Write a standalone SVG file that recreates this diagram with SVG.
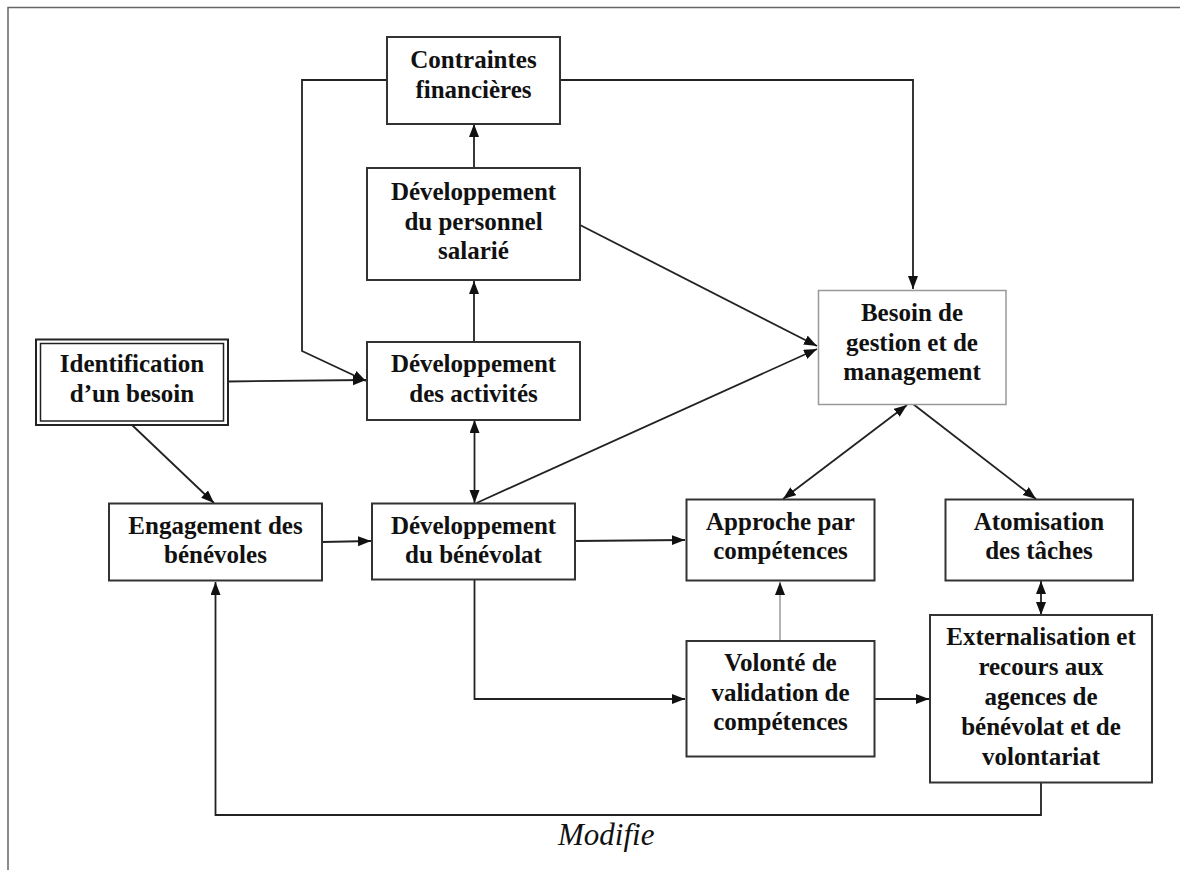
<svg xmlns="http://www.w3.org/2000/svg" width="1180" height="870" viewBox="0 0 1180 870">
<style>
.box{fill:#fff;stroke:#333;stroke-width:2}
.box2{fill:#fff;stroke:#999;stroke-width:1.5}
.t{font-family:"Liberation Serif","Times New Roman",serif;font-weight:bold;font-size:25px;fill:#111;text-anchor:middle}
.c{fill:none;stroke:#222;stroke-width:1.8}
.thin{fill:none;stroke:#666;stroke-width:1}
.lbl{font-family:"Liberation Serif","Times New Roman",serif;font-style:italic;font-size:31px;fill:#111}
</style>
<defs>
<marker id="ah" markerUnits="userSpaceOnUse" markerWidth="14" markerHeight="11" refX="13" refY="5" orient="auto-start-reverse">
<path d="M0,0 L13,5 L0,10 z" fill="#111"/>
</marker>
</defs>
<rect width="1180" height="870" fill="#fff"/>
<path d="M8,870 V7.5 H1180" fill="none" stroke="#666" stroke-width="1.5"/>

<g id="connectors">
<path class="c" d="M560,80 H913 V289" marker-end="url(#ah)"/>
<path class="c" d="M387,80 H302 V351 L366,381" marker-end="url(#ah)"/>
<path class="c" d="M474,168 V124" marker-end="url(#ah)"/>
<path class="c" d="M474,342 V281" marker-end="url(#ah)"/>
<path class="c" d="M228,381.5 L366,380" marker-end="url(#ah)"/>
<path class="c" d="M580,225 L817,346" marker-end="url(#ah)"/>
<path class="c" d="M476.5,503 L817,349" marker-end="url(#ah)"/>
<path class="c" d="M474.5,420 V503" marker-start="url(#ah)" marker-end="url(#ah)"/>
<path class="c" d="M132,425 L214,503" marker-end="url(#ah)"/>
<path class="c" d="M322,542 L371,541" marker-end="url(#ah)"/>
<path class="c" d="M575,541 L685,540" marker-end="url(#ah)"/>
<path class="c" d="M474.5,580 V699 H685" marker-end="url(#ah)"/>
<path class="c" d="M907,405 L783,499" marker-start="url(#ah)" marker-end="url(#ah)"/>
<path class="c" d="M913,404 L1036,499" marker-end="url(#ah)"/>
<path class="thin" d="M780,641 V582" marker-end="url(#ah)"/>
<path class="c" d="M874,699 H929" marker-end="url(#ah)"/>
<path class="c" d="M1041,581 V615" marker-start="url(#ah)" marker-end="url(#ah)"/>
<path class="c" d="M1041,783 V815 H215.5 V582" marker-end="url(#ah)"/>
<text class="lbl" x="558" y="845">Modifie</text>
</g>

<g id="contraintes">
<rect class="box" x="387" y="37" width="173" height="87"/>
<text class="t" x="473.5" y="68">Contraintes</text>
<text class="t" x="473.5" y="98">financières</text>
</g>
<g id="personnel">
<rect class="box" x="367" y="168" width="213" height="112"/>
<text class="t" x="473.5" y="200">Développement</text>
<text class="t" x="473.5" y="230">du personnel</text>
<text class="t" x="473.5" y="259">salarié</text>
</g>
<g id="activites">
<rect class="box" x="367" y="342" width="213" height="78"/>
<text class="t" x="473.5" y="372">Développement</text>
<text class="t" x="473.5" y="401.5">des activités</text>
</g>
<g id="identification">
<rect x="36" y="339.5" width="192" height="85.5" fill="#fff" stroke="#222" stroke-width="2"/>
<rect x="40.5" y="343.5" width="183" height="77.5" fill="none" stroke="#222" stroke-width="1.5"/>
<text class="t" x="132" y="372">Identification</text>
<text class="t" x="132" y="401.5">d’un besoin</text>
</g>
<g id="engagement">
<rect class="box" x="109" y="503.5" width="213" height="77"/>
<text class="t" x="215.5" y="534">Engagement des</text>
<text class="t" x="215.5" y="563">bénévoles</text>
</g>
<g id="benevolat">
<rect class="box" x="372" y="503.5" width="203" height="76"/>
<text class="t" x="473.5" y="534">Développement</text>
<text class="t" x="473.5" y="563">du bénévolat</text>
</g>
<g id="besoin">
<rect class="box2" x="818.5" y="290.5" width="187.5" height="114"/>
<text class="t" x="912" y="320.5">Besoin de</text>
<text class="t" x="912" y="350.5">gestion et de</text>
<text class="t" x="912" y="380">management</text>
</g>
<g id="approche">
<rect class="box" x="686.5" y="499.5" width="188" height="81"/>
<text class="t" x="780.5" y="530">Approche par</text>
<text class="t" x="780.5" y="559">compétences</text>
</g>
<g id="atomisation">
<rect class="box" x="945.5" y="499.5" width="187.5" height="81"/>
<text class="t" x="1039" y="530">Atomisation</text>
<text class="t" x="1039" y="559">des tâches</text>
</g>
<g id="volonte">
<rect class="box" x="686.5" y="641" width="188" height="115.5"/>
<text class="t" x="780.5" y="670.5">Volonté de</text>
<text class="t" x="780.5" y="700.5">validation de</text>
<text class="t" x="780.5" y="730">compétences</text>
</g>
<g id="externalisation">
<rect class="box" x="930" y="615" width="222" height="167.5"/>
<text class="t" x="1041" y="645">Externalisation et</text>
<text class="t" x="1041" y="675">recours aux</text>
<text class="t" x="1041" y="705">agences de</text>
<text class="t" x="1041" y="735">bénévolat et de</text>
<text class="t" x="1041" y="765">volontariat</text>
</g>
</svg>
